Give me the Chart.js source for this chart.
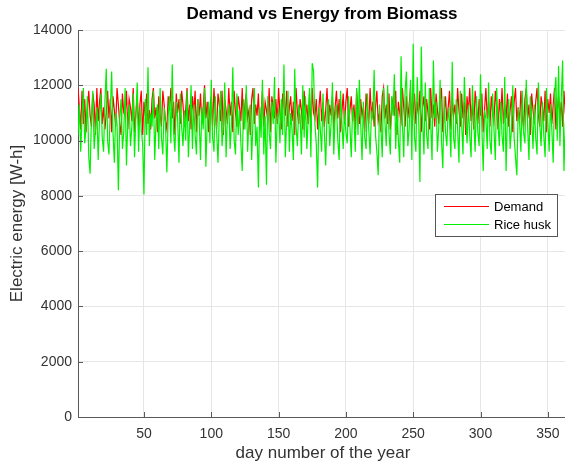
<!DOCTYPE html>
<html>
<head>
<meta charset="utf-8">
<script src="https://cdn.jsdelivr.net/npm/chart.js@4.4.1/dist/chart.umd.min.js"></script>
<style>
  html, body { margin: 0; padding: 0; background: #fff; overflow: hidden; }
  #wrap { width: 565px; height: 464px; overflow: hidden; position: relative; }
  canvas { display: block; }
</style>
</head>
<body>
<div id="wrap"><canvas id="c" width="572" height="464" style="width:572px;height:464px"></canvas></div>
<script>
const titleText = "Demand vs Energy from Biomass";
const xTitle = "day number of the year";
const yTitle = "Electric energy [W-h]";
const seriesNames = ["Demand", "Rice husk"];
const xTicks = [50, 100, 150, 200, 250, 300, 350];
const yTicks = [0, 2000, 4000, 6000, 8000, 10000, 12000, 14000];
const dayCount = 365;
const days = Array.from({length: dayCount}, (_, i) => i + 1);

const demand = [
11900,11200,10400,11800,10600,11500,10300,11100,11800,10900,
10500,11700,11300,10200,11900,10700,11400,11900,10600,11200,
10400,11000,11800,10800,11500,10300,11600,11100,10500,11900,
11300,10600,10200,11700,11000,10900,11800,10400,11500,11200,
10700,11900,10300,11000,11600,10500,11300,11800,10200,11400,
10900,11700,10600,11100,10400,11500,11900,10800,11200,10300,
11600,11000,10500,11800,11300,10700,10400,11600,11100,11900,
10800,11400,10200,11700,11000,11500,10600,11800,11300,10500,
11100,11900,10700,11300,10400,11600,11000,11800,10300,11500,
10900,11700,10600,11200,12000,10800,11400,10300,11100,11600,
10500,11900,11000,10400,11700,11300,10700,11800,10200,11500,
11100,10600,11900,10900,11400,10300,11800,11000,10500,11600,
11200,10700,11900,10400,11300,11700,10800,11100,10200,11500,
11900,10600,11300,10900,11700,10400,11000,11800,10500,11400,
11100,10700,11900,10300,11600,11200,10800,11500,10600,11900,
11000,10400,11700,11300,10900,11800,10500,11200,11600,10700,
11400,10200,11900,11000,10600,11500,11100,10400,11800,10900,
11300,10600,11700,10300,11900,11000,10800,11500,10400,11200,
11800,10700,11400,10500,11100,11900,10600,11300,10900,11600,
10400,11200,11800,10800,11500,10300,11000,11700,10600,11400,
11900,10500,11100,11600,10700,11300,10400,11800,11000,10600,
11500,10900,11200,10300,11700,11100,10600,11900,10800,11400,
10500,11200,11800,10700,11000,10300,11600,11900,10800,11300,
10600,11700,10400,11100,11500,10900,11800,10200,11400,11000,
10700,11900,11200,10500,11600,10800,11300,11900,10400,11100,
11700,10600,11400,10900,11800,10300,11200,11600,10700,11500,
11000,10400,11900,10800,11300,10500,11700,11100,10600,11400,
11900,10300,11000,11600,10700,11200,11800,10400,11500,10900,
11300,10600,11900,11100,10500,11700,10800,11400,10200,11600,
11000,11900,10700,11300,10400,11800,11200,10600,11500,10900,
11700,10300,11100,11900,10800,11400,10500,11600,11000,10700,
11800,11200,10400,11500,10900,11900,10600,11300,10800,11700,
10500,11100,11600,10300,11400,11900,10700,11200,10600,11800,
11000,10400,11500,11900,10800,11300,10200,11700,11100,10600,
11400,11900,10900,10500,11600,11200,10700,11800,10300,11500,
11000,11700,10600,11300,11900,10400,11100,11600,10800,11400,
10500,11800,11000,10700,11600
];

const riceHusk = [
10200,11300,9600,10800,11900,9900,10500,11600,9400,8800,
10900,11800,9700,10400,11200,9300,10800,11700,10100,9600,
11400,12600,10000,9500,11100,12500,10300,9200,11000,10600,
8200,10800,11500,9700,10300,11900,9100,10700,11300,9800,
10500,11700,9400,10900,12100,9600,11200,10400,9900,8050,
11500,10200,12650,9800,11000,10500,11800,9300,10700,11300,
9700,11900,10100,9500,11200,10600,8850,10900,11600,9900,
12750,10300,9600,11400,10800,9200,11700,10500,9800,11100,
10000,11800,9400,10600,12000,9700,11300,10200,9500,11500,
10800,9300,11200,10400,11900,9050,10700,11400,9900,12200,
10100,9600,11600,10300,9200,11000,11800,9800,10500,12100,
9400,10900,11300,9700,10600,12650,10000,9500,11700,10200,
11100,9900,8900,11500,10400,12000,9600,10800,11300,9300,
10700,11900,9800,10500,8300,11200,10100,12200,9500,10900,
8400,11600,10300,9700,11400,10600,12300,9200,10800,11100,
9900,11500,10200,12750,9400,10700,11800,9600,11000,10400,
9300,12600,10500,9800,11300,10900,9500,12000,10100,11600,
9700,10800,11900,9400,12800,12500,10600,9900,8300,11200,
10400,9600,11700,10300,9100,11000,11500,9800,10600,12100,
9500,10900,11300,10000,9300,11800,10700,9700,11100,10300,
9900,11600,10500,9400,11200,10800,9600,11900,10200,12200,
10600,9300,11400,10100,9700,11700,10400,9500,11000,10800,
12550,10200,9600,8750,11300,10500,9400,11900,10700,9800,
12000,10300,9500,11600,10900,12400,9700,11200,10000,9200,
13050,10600,9400,11800,12500,9800,10400,12200,9300,13500,
10100,9600,12300,11000,8500,13400,10700,9500,12100,10200,
9700,11900,10600,9300,12900,10800,11400,9600,10500,12200,
10000,9000,11600,10300,9800,11200,10700,9400,12850,10100,
9700,11500,10400,9200,11800,10600,9500,12300,10900,9900,
11300,10200,9400,12000,10700,9600,11600,10300,9800,12400,
10500,8900,11100,10800,9700,12100,10000,9500,11700,10400,
9300,11900,10600,9800,11400,10200,9600,12300,8900,10900,
11500,9700,10400,12000,10100,9400,8750,11200,10700,9600,
11800,10300,9900,12200,10500,9300,11600,10800,9700,11300,
10100,9500,12100,10600,9800,11400,10200,9400,11900,10700,
9600,11300,10400,9200,11700,12300,10000,12700,9800,11500,
12900,8900,10600,11200,9900
];

const FONT = "'Liberation Sans', Arial, Helvetica, sans-serif";
const AXIS_COLOR = '#5a5a5a';
const TEXT_COLOR = '#333333';

const decor = {
  id: 'decor',
  afterDraw(chart) {
    const ctx = chart.ctx;
    const a = chart.chartArea;
    const xs = chart.scales.x, ys = chart.scales.y;
    ctx.save();
    ctx.strokeStyle = AXIS_COLOR;
    ctx.lineWidth = 1;
    ctx.beginPath();
    xTicks.forEach(v => {
      const px = Math.round(xs.getPixelForValue(v)) + 0.5;
      ctx.moveTo(px, a.bottom);
      ctx.lineTo(px, a.bottom - 5);
    });
    yTicks.forEach(v => {
      const py = Math.round(ys.getPixelForValue(v)) + 0.5;
      ctx.moveTo(a.left, py);
      ctx.lineTo(a.left + 5, py);
    });
    ctx.stroke();
    ctx.fillStyle = '#000';
    ctx.font = 'bold 17px ' + FONT;
    ctx.textAlign = 'center';
    ctx.textBaseline = 'middle';
    ctx.fillText(titleText, 322, 14);
    ctx.fillStyle = TEXT_COLOR;
    ctx.font = '17px ' + FONT;
    ctx.fillText(xTitle, 323, 453);
    ctx.save();
    ctx.translate(17, (a.top + a.bottom) / 2);
    ctx.rotate(-Math.PI / 2);
    ctx.fillText(yTitle, 0, 0);
    ctx.restore();
    const bx = 435.5, by = 194.5, bw = 122, bh = 42;
    ctx.fillStyle = '#fff';
    ctx.fillRect(bx, by, bw, bh);
    ctx.strokeStyle = '#555';
    ctx.lineWidth = 1;
    ctx.strokeRect(bx, by, bw, bh);
    const ds = chart.data.datasets;
    const rows = [206, 224];
    ctx.font = '13px ' + FONT;
    ctx.textAlign = 'left';
    ctx.textBaseline = 'middle';
    rows.forEach((ry, i) => {
      ctx.strokeStyle = ds[i].borderColor;
      ctx.lineWidth = 1.2;
      ctx.beginPath();
      ctx.moveTo(444, ry + 0.5);
      ctx.lineTo(489, ry + 0.5);
      ctx.stroke();
      ctx.fillStyle = '#000';
      ctx.fillText(seriesNames[i], 494, ry + 1);
    });
    ctx.restore();
  }
};

new Chart(document.getElementById('c'), {
  type: 'line',
  data: {
    datasets: [
      {
        label: seriesNames[0],
        data: days.map((d, i) => ({x: d, y: demand[i]})),
        borderColor: '#ff0000',
        borderWidth: 1.2,
        pointRadius: 0,
        tension: 0,
        order: 1
      },
      {
        label: seriesNames[1],
        data: days.map((d, i) => ({x: d, y: riceHusk[i]})),
        borderColor: '#00f000',
        borderWidth: 1.2,
        pointRadius: 0,
        tension: 0,
        order: 0
      }
    ]
  },
  options: {
    responsive: false,
    animation: false,
    devicePixelRatio: 1,
    layout: { padding: { top: 30, right: 4, left: 0, bottom: 0 } },
    plugins: { legend: { display: false }, tooltip: { enabled: false }, title: { display: false } },
    scales: {
      x: {
        type: 'linear',
        min: 1,
        max: 365,
        afterBuildTicks: s => { s.ticks = xTicks.map(v => ({value: v})); },
        afterFit: s => { s.height = 47; },
        grid: { color: '#e6e6e6', drawTicks: false, lineWidth: 1 },
        border: { color: AXIS_COLOR, width: 1 },
        ticks: { color: TEXT_COLOR, font: { family: FONT, size: 14 }, padding: 9, maxRotation: 0,
                 callback: v => String(v) }
      },
      y: {
        type: 'linear',
        min: 0,
        max: 14000,
        afterBuildTicks: s => { s.ticks = yTicks.map(v => ({value: v})); },
        afterFit: s => { s.width = 78; },
        grid: { color: '#e6e6e6', drawTicks: false, lineWidth: 1 },
        border: { color: AXIS_COLOR, width: 1 },
        ticks: { color: TEXT_COLOR, font: { family: FONT, size: 14 }, padding: 6,
                 callback: v => String(v) }
      }
    }
  },
  plugins: [decor]
});
</script>
</body>
</html>
